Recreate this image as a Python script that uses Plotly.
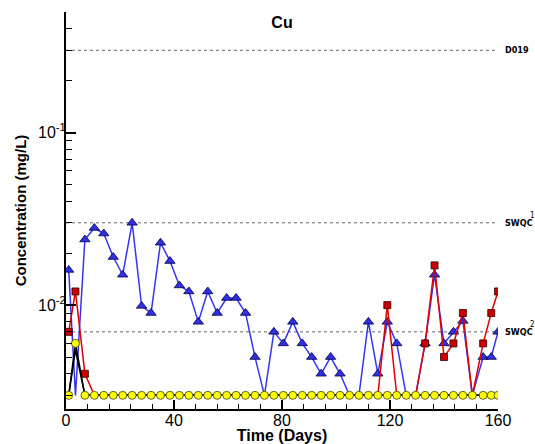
import math
import plotly.graph_objects as go

# ---- data ----
days = [1, 3.5, 7, 10.5, 14, 17.5, 21, 24.5, 28, 31.5,
        35, 38.5, 42, 45.5, 49, 52.5, 56, 59.5, 63, 66.5,
        70, 73.5, 77, 80.5, 84, 87.5, 91, 94.5, 98, 101.5,
        105, 108.5, 112, 115.5, 119, 122.5, 126, 129.5, 133, 136.5,
        140, 143.5, 147, 150.5, 154.5, 157.5, 160]

blue_vals = [0.016, 0.003, 0.024, 0.028, 0.026, 0.019, 0.015, 0.030, 0.0099, 0.009,
             0.023, 0.018, 0.013, 0.012, 0.008, 0.012, 0.009, 0.011, 0.011, 0.009,
             0.005, 0.003, 0.007, 0.006, 0.008, 0.006, 0.005, 0.004, 0.005, 0.004,
             0.003, 0.003, 0.008, 0.004, 0.008, 0.006, 0.003, 0.003, 0.006, 0.015,
             0.006, 0.007, 0.0081, 0.003, 0.005, 0.005, 0.007]

red_vals = [0.007, 0.012, 0.004, 0.003, 0.003, 0.003, 0.003, 0.003, 0.003, 0.003,
            0.003, 0.003, 0.003, 0.003, 0.003, 0.003, 0.003, 0.003, 0.003, 0.003,
            0.003, 0.003, 0.003, 0.003, 0.003, 0.003, 0.003, 0.003, 0.003, 0.003,
            0.003, 0.003, 0.003, 0.003, 0.010, 0.003, 0.003, 0.003, 0.006, 0.017,
            0.005, 0.006, 0.009, 0.003, 0.006, 0.009, 0.012]

black_vals = [0.003, 0.0055] + [0.003] * 45

yellow_vals = [0.003, 0.006] + [0.003] * 45

detection_limit = 0.003

threshold_names = ["D019", "SWQC", "SWQC"]
threshold_sup = ["", "1", "2"]
threshold_vals = [0.3, 0.03, 0.007]

x_ticks = [0, 40, 80, 120, 160]
y_ticks = [0.01, 0.1]
y_ticktext = ["10<sup>-2</sup>", "10<sup>-1</sup>"]

FONT = "Liberation Sans, Arial, Helvetica, sans-serif"
NARROW = "Liberation Sans Narrow, Arial Narrow, DejaVu Sans Condensed, sans-serif"

fig = go.Figure()

# threshold dotted lines
for name, sup, val in zip(threshold_names, threshold_sup, threshold_vals):
    fig.add_trace(go.Scatter(x=[0, 160], y=[val, val], mode="lines",
                             line=dict(color="#666666", width=1, dash="dot"),
                             hoverinfo="skip", showlegend=False))
    fig.add_annotation(x=1.012, xref="paper", y=math.log10(val), yref="y",
                       text="<b>" + name + "</b>", showarrow=False,
                       xanchor="left", yanchor="middle",
                       font=dict(family=NARROW, size=9, color="black"))
    if sup:
        fig.add_annotation(x=1.0, xref="paper", xshift=30, y=math.log10(val), yref="y",
                           yshift=7, text=sup, showarrow=False,
                           xanchor="left", yanchor="middle",
                           font=dict(family=NARROW, size=8, color="black"))

def sizes(vals, s):
    return [0 if v <= detection_limit else s for v in vals]

fig.add_trace(go.Scatter(x=days, y=blue_vals, mode="lines+markers",
                         line=dict(color="#3535f0", width=1.5),
                         marker=dict(symbol="triangle-up", size=sizes(blue_vals, 9), opacity=1,
                                     color="#2f2fe6", line=dict(color="#000040", width=0.8)),
                         showlegend=False))
fig.add_trace(go.Scatter(x=days, y=red_vals, mode="lines+markers",
                         line=dict(color="#e00000", width=1.5),
                         marker=dict(symbol="square", size=sizes(red_vals, 7), opacity=1,
                                     color="#cc0000", line=dict(color="#300000", width=0.8)),
                         showlegend=False))
fig.add_trace(go.Scatter(x=days, y=black_vals, mode="lines",
                         line=dict(color="black", width=1.5),
                         showlegend=False))
fig.add_trace(go.Scatter(x=days, y=yellow_vals, mode="lines+markers",
                         line=dict(color="black", width=1.5),
                         marker=dict(symbol="circle", size=8, opacity=1,
                                     color="#ffff00", line=dict(color="#404000", width=0.8)),
                         showlegend=False))

fig.update_layout(
    width=535, height=444,
    margin=dict(l=66, r=37, t=12, b=35, autoexpand=False),
    paper_bgcolor="white", plot_bgcolor="white",
    font=dict(family=FONT, color="black"),
    title=dict(text="<b>Cu</b>", x=(66 + 498) / 2 / 535, xanchor="center",
               y=1 - 22 / 444, yanchor="middle", font=dict(size=16, family=FONT)),
    xaxis=dict(range=[0, 160], tickvals=x_ticks, ticks="inside", ticklen=9,
               tickwidth=1.5, tickcolor="black", showgrid=False, zeroline=False,
               showline=True, linecolor="black", linewidth=2, automargin=False,
               tickfont=dict(size=16, family=FONT), ticklabelstandoff=-4,
               minor=dict(ticks="inside", dtick=8, ticklen=5, tickwidth=1, tickcolor="black"),
               title=dict(text="<b>Time (Days)</b>", font=dict(size=16, family=FONT), standoff=5)),
    yaxis=dict(type="log", range=[math.log10(0.0025), math.log10(0.5)],
               tickvals=y_ticks, ticktext=y_ticktext, ticks="inside", ticklen=10,
               tickwidth=1.5, tickcolor="black", showgrid=False, zeroline=False,
               showline=True, linecolor="black", linewidth=2, automargin=False,
               tickfont=dict(size=16, family=FONT), ticklabelstandoff=-5,
               minor=dict(ticks="inside", dtick="D1", ticklen=6, tickwidth=1, tickcolor="black"),
               title=dict(text="<b>Concentration (mg/L)</b>", font=dict(size=15, family=FONT), standoff=8)),
)

fig.write_html("out.html", config={"displayModeBar": False},
               post_script="document.body.style.margin='0';")
